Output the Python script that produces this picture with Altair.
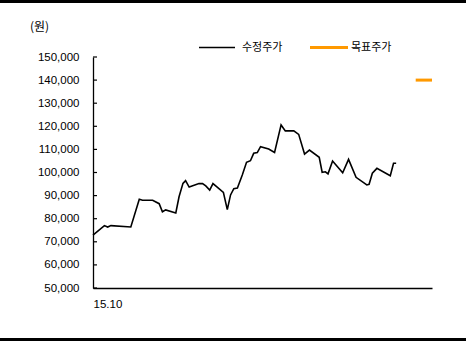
import altair as alt
import pandas as pd

# weeks since 2015-10 and adjusted price (원)
weeks = [0, 3.5, 4.5, 5.5, 11.6, 14.2, 15.2, 18.3, 20.3, 21.3, 22.3, 25.4, 26.4, 27.6, 28.4,
         29.5, 32.5, 33.6, 34.6, 35.8, 36.8, 38.1, 40.0, 41.2, 42.2, 43.2, 44.3, 45.8, 47.1,
         48.3, 49.3, 50.4, 51.4, 53.9, 55.7, 57.7, 59.0, 61.6, 63.1, 64.9, 66.4, 69.4, 70.3,
         71.3, 72.1, 73.5, 76.6, 78.4, 80.7, 84.0, 84.7, 85.7, 87.1, 91.2, 92.2, 93.0]
price = [72900, 77000, 76400, 77000, 76400, 88400, 88000, 88000, 86500, 83000, 83800, 82500,
         89500, 95300, 96500, 93700, 95200, 95200, 94200, 92400, 95200, 93700, 91400, 83900,
         90300, 93000, 93300, 98900, 104400, 105100, 108300, 108600, 111200, 110200, 108700,
         120600, 118000, 118000, 116500, 108000, 109700, 106600, 100100, 100300, 99400, 105000,
         99900, 105700, 97900, 94600, 94900, 99700, 101800, 98600, 104000, 104000]
target_weeks = [99, 104]
target_price = [140000, 140000]
y_ticks = [50000, 60000, 70000, 80000, 90000, 100000, 110000, 120000, 130000, 140000, 150000]
x_label = "15.10"
legend_names = ["수정주가", "목표주가"]

df = pd.DataFrame({"t": weeks, "p": price})
tg = pd.DataFrame({"t": target_weeks, "p": target_price})
tk = pd.DataFrame({"p": y_ticks})

FONT = "Liberation Sans"
KFONT = "Noto Sans CJK KR"

xs = alt.Scale(domain=[0, 104], nice=False, zero=False)
ys = alt.Scale(domain=[50000, 150000], nice=False, zero=False)

x_axis = alt.Axis(values=[0], labelExpr=f"'{x_label}'", ticks=False, grid=False,
                  domainColor="black", domainWidth=1.5, labelFont=FONT,
                  labelFontSize=11.5, labelColor="black", labelPadding=10,
                  labelOverlap=False)
y_axis = alt.Axis(values=y_ticks, labelExpr="format(datum.value, ',.0f')",
                  ticks=False, grid=False, labelOverlap=False,
                  domainColor="black", domainWidth=1.3, labelFont=FONT,
                  labelFontSize=11.5, labelColor="black", labelPadding=14)

line = alt.Chart(df).mark_line(color="black", strokeWidth=1.6).encode(
    x=alt.X("t:Q", scale=xs, title=None, axis=x_axis),
    y=alt.Y("p:Q", scale=ys, title=None, axis=y_axis),
)

target = alt.Chart(tg).mark_line(color="#FF9900", strokeWidth=3).encode(
    x=alt.X("t:Q", scale=xs, title=None, axis=x_axis),
    y=alt.Y("p:Q", scale=ys, title=None, axis=y_axis))

ticks = alt.Chart(tk).mark_rule(color="black", strokeWidth=1.2).encode(
    y=alt.Y("p:Q", scale=ys, title=None, axis=y_axis), x=alt.value(0), x2=alt.value(4))

unit = alt.Chart(pd.DataFrame({"s": ["(원)"]})).mark_text(
    font=KFONT, fontSize=12, align="left", baseline="middle", color="black").encode(
    text="s:N", x=alt.value(-63), y=alt.value(-30))

leg_df = pd.DataFrame({"s": legend_names})
leg_line1 = alt.Chart(leg_df.iloc[[0]]).mark_rule(color="black", strokeWidth=1.5).encode(
    x=alt.value(106), x2=alt.value(142), y=alt.value(-9.5))
leg_line2 = alt.Chart(leg_df.iloc[[1]]).mark_rule(color="#FF9900", strokeWidth=3).encode(
    x=alt.value(217), x2=alt.value(255), y=alt.value(-9.5))
leg_t1 = alt.Chart(leg_df.iloc[[0]]).mark_text(
    font=KFONT, fontSize=11, align="left", baseline="middle", color="black").encode(
    text="s:N", x=alt.value(149), y=alt.value(-9.5))
leg_t2 = alt.Chart(leg_df.iloc[[1]]).mark_text(
    font=KFONT, fontSize=11, align="left", baseline="middle", color="black").encode(
    text="s:N", x=alt.value(258), y=alt.value(-9.5))

bar_top = alt.Chart(pd.DataFrame({"a": [0]})).mark_rule(color="black", strokeWidth=3).encode(
    x=alt.value(-93), x2=alt.value(373), y=alt.value(-55.5))
bar_bot = alt.Chart(pd.DataFrame({"a": [0]})).mark_rule(color="black", strokeWidth=3).encode(
    x=alt.value(-93), x2=alt.value(373), y=alt.value(282.5))

chart = alt.layer(line, target, ticks, unit, leg_line1, leg_line2, leg_t1, leg_t2,
                  bar_top, bar_bot).properties(
    width=339, height=231,
    autosize=alt.AutoSizeParams(type="none"),
    padding={"left": 93, "top": 57, "right": 34, "bottom": 53},
    background="white",
).configure_view(stroke=None)

chart.save("out.html", embed_options={"renderer": "svg", "actions": False})
